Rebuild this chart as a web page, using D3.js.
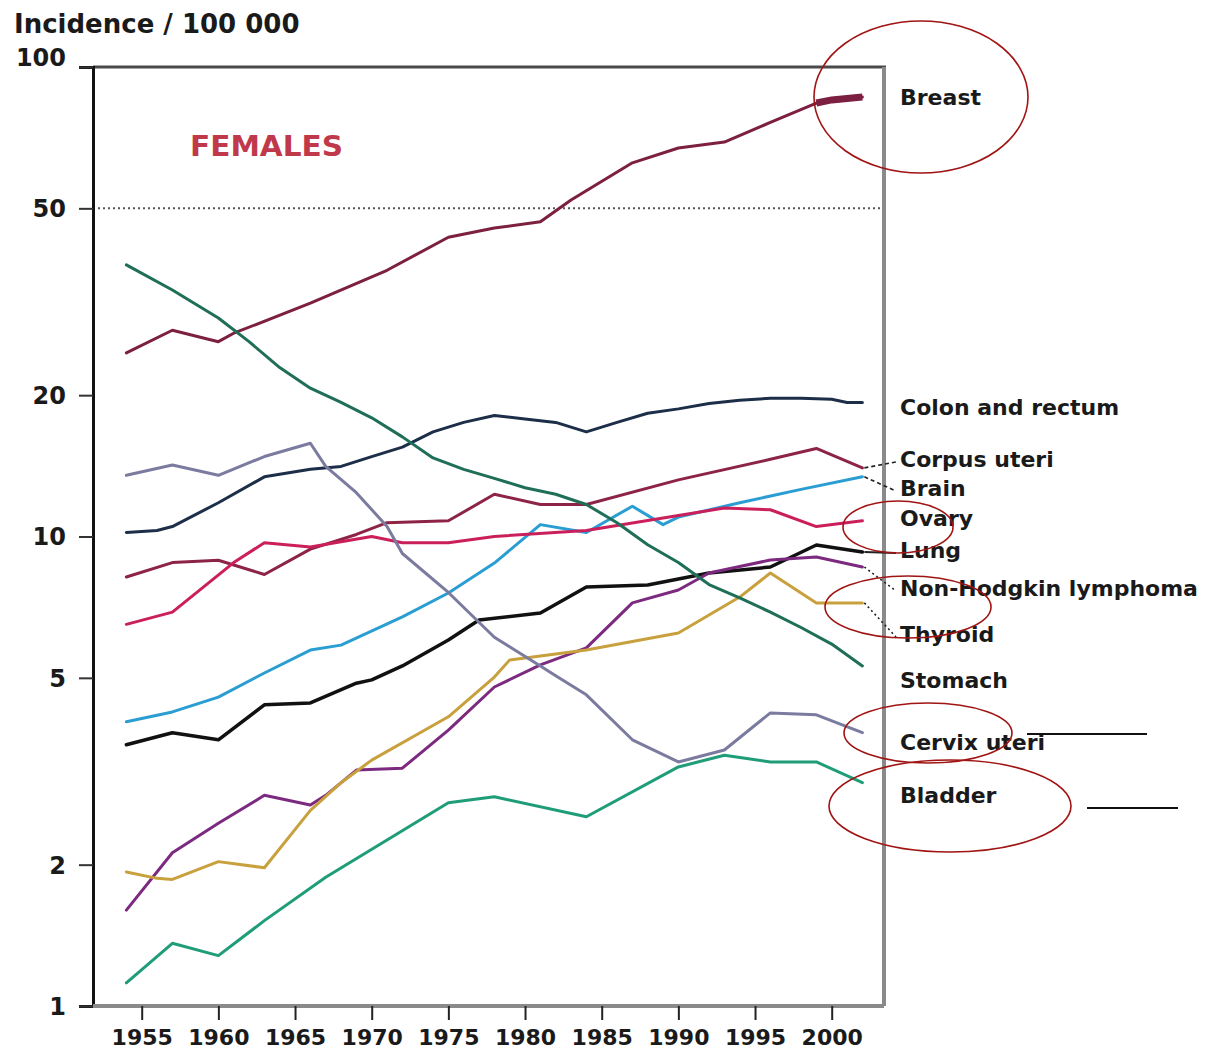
<!DOCTYPE html>
<html>
<head>
<meta charset="utf-8">
<script src="https://cdn.jsdelivr.net/npm/d3@7"></script>
<style>
  html, body { margin: 0; padding: 0; background: #fff; }
  svg { display: block; }
  text { font-family: "DejaVu Sans", sans-serif; font-weight: bold; }
</style>
</head>
<body>
<svg id="chart" width="1212" height="1054"></svg>
<script>
// Female cancer incidence per 100 000, [year, rate] pairs
const breast = [[1954,24.6],[1957,27.5],[1960,26.0],[1961,27.1],[1966,31.4],[1971,36.9],[1975,43.4],[1978,45.4],[1981,46.8],[1983,52.1],[1987,62.5],[1990,67.2],[1993,69.2],[1996,76.2],[1999,83.8],[2000,85.1],[2002,86.3]];
const colonRectum = [[1954,10.2],[1956,10.3],[1957,10.5],[1960,11.8],[1963,13.4],[1966,13.9],[1968,14.1],[1970,14.8],[1972,15.5],[1974,16.7],[1976,17.5],[1978,18.1],[1980,17.8],[1982,17.5],[1984,16.7],[1986,17.5],[1988,18.3],[1990,18.7],[1992,19.2],[1994,19.5],[1996,19.7],[1998,19.7],[2000,19.6],[2001,19.3],[2002,19.3]];
const corpusUteri = [[1954,8.2],[1957,8.8],[1960,8.9],[1963,8.3],[1966,9.4],[1969,10.1],[1971,10.7],[1975,10.8],[1978,12.3],[1981,11.7],[1984,11.7],[1990,13.2],[1996,14.6],[1999,15.4],[2002,14.0]];
const brain = [[1954,4.03],[1957,4.23],[1960,4.55],[1963,5.12],[1966,5.73],[1968,5.87],[1972,6.74],[1975,7.58],[1978,8.78],[1981,10.6],[1984,10.2],[1987,11.6],[1989,10.6],[1990,11.0],[1994,11.8],[1998,12.6],[2002,13.4]];
const ovary = [[1954,6.5],[1957,6.9],[1961,8.8],[1963,9.7],[1966,9.5],[1970,10.0],[1972,9.7],[1975,9.7],[1978,10.0],[1984,10.3],[1993,11.5],[1996,11.4],[1999,10.5],[2002,10.8]];
const lung = [[1954,3.60],[1957,3.82],[1960,3.69],[1963,4.38],[1966,4.42],[1969,4.87],[1970,4.95],[1972,5.3],[1975,6.02],[1977,6.64],[1981,6.87],[1984,7.81],[1988,7.88],[1992,8.36],[1996,8.61],[1999,9.59],[2002,9.27]];
const nonHodgkin = [[1954,1.60],[1957,2.12],[1960,2.45],[1963,2.81],[1966,2.68],[1967,2.81],[1969,3.18],[1972,3.21],[1975,3.87],[1978,4.78],[1981,5.33],[1984,5.79],[1987,7.22],[1990,7.69],[1992,8.36],[1996,8.91],[1999,9.04],[2002,8.61]];
const thyroid = [[1954,1.93],[1956,1.87],[1957,1.86],[1960,2.03],[1963,1.97],[1966,2.61],[1968,2.99],[1970,3.34],[1975,4.13],[1978,5.02],[1979,5.46],[1984,5.73],[1990,6.23],[1994,7.43],[1996,8.36],[1999,7.22],[2002,7.22]];
const stomach = [[1954,37.9],[1957,33.5],[1960,29.2],[1962,26.0],[1964,22.9],[1966,20.7],[1968,19.3],[1970,17.9],[1972,16.3],[1974,14.7],[1976,13.9],[1978,13.3],[1980,12.7],[1982,12.3],[1984,11.7],[1986,10.7],[1988,9.6],[1990,8.8],[1992,7.9],[1994,7.4],[1996,6.9],[1998,6.4],[2000,5.9],[2002,5.3]];
const cervixUteri = [[1954,13.5],[1957,14.2],[1960,13.5],[1963,14.8],[1966,15.8],[1967,14.1],[1969,12.4],[1971,10.5],[1972,9.2],[1975,7.6],[1978,6.1],[1981,5.3],[1982,5.05],[1984,4.6],[1987,3.69],[1990,3.31],[1993,3.51],[1996,4.21],[1999,4.17],[2002,3.82]];
const bladder = [[1954,1.12],[1957,1.36],[1960,1.28],[1963,1.52],[1967,1.88],[1975,2.71],[1978,2.79],[1984,2.53],[1990,3.23],[1993,3.42],[1996,3.31],[1999,3.31],[2002,2.99]];

const seriesNames = ["Breast","Colon and rectum","Corpus uteri","Brain","Ovary","Lung","Non-Hodgkin lymphoma","Thyroid","Stomach","Cervix uteri","Bladder"];
const seriesData = [breast, colonRectum, corpusUteri, brain, ovary, lung, nonHodgkin, thyroid, stomach, cervixUteri, bladder];

const yearTicks = [1955,1960,1965,1970,1975,1980,1985,1990,1995,2000];
const rateTicks = [1,2,5,10,20,50,100];
const axisTitle = "Incidence / 100 000";
const panelTitle = "FEMALES";

// ---- styling / layout ----
const colors = {
  "Breast": "#7c1f40",
  "Colon and rectum": "#1d2e48",
  "Corpus uteri": "#8d2446",
  "Brain": "#2a9ed3",
  "Ovary": "#cb1f5b",
  "Lung": "#111111",
  "Non-Hodgkin lymphoma": "#7c2a80",
  "Thyroid": "#c9a03e",
  "Stomach": "#1f6e58",
  "Cervix uteri": "#7b7b9f",
  "Bladder": "#1f9c78"
};
// vertical centre of each end label, and the leader style joining it to its line
const labelLayout = {
  "Breast": {y: 97},
  "Colon and rectum": {y: 407},
  "Corpus uteri": {y: 459, leader: "4,3"},
  "Brain": {y: 488, leader: "4,3"},
  "Ovary": {y: 518},
  "Lung": {y: 550, leader: "solid"},
  "Non-Hodgkin lymphoma": {y: 588, leader: "2,3"},
  "Thyroid": {y: 634, leader: "2,3"},
  "Stomach": {y: 680},
  "Cervix uteri": {y: 742},
  "Bladder": {y: 795}
};

const svg = d3.select("#chart");
const plot = {left: 93, right: 884, top: 67, bottom: 1006};

const x = d3.scaleLinear().domain([1955, 2000]).range([141.7, 831.7]);
const y = d3.scaleLog().domain([1, 100]).range([plot.bottom, plot.top]);

svg.append("rect").attr("width", 1212).attr("height", 1054).attr("fill", "#fff");

// title above the axis
svg.append("text").attr("x", 14).attr("y", 33)
  .attr("font-size", 26).attr("fill", "#1a1a1a").text(axisTitle);

// dotted reference line at 50
svg.append("line")
  .attr("x1", plot.left).attr("x2", plot.right)
  .attr("y1", y(50)).attr("y2", y(50))
  .attr("stroke", "#555").attr("stroke-width", 2).attr("stroke-dasharray", "2,3");

// frame: top and right edges
svg.append("line").attr("x1", plot.left).attr("x2", plot.right + 2)
  .attr("y1", plot.top).attr("y2", plot.top)
  .attr("stroke", "#4a4a4a").attr("stroke-width", 3);
svg.append("line").attr("x1", plot.right).attr("x2", plot.right)
  .attr("y1", plot.top).attr("y2", plot.bottom)
  .attr("stroke", "#8a8a8a").attr("stroke-width", 4);

// y axis (left)
const yAxis = d3.axisLeft(y).tickValues(rateTicks).tickFormat(d3.format("d"))
  .tickSize(14).tickPadding(13);
const gy = svg.append("g").attr("transform", `translate(${plot.left},0)`).call(yAxis);
gy.select(".domain").attr("stroke", "#111").attr("stroke-width", 3);
gy.selectAll(".tick line").attr("stroke", "#333").attr("stroke-width", 2);
gy.selectAll(".tick text").attr("font-size", 24).attr("fill", "#1a1a1a")
  .attr("font-family", "DejaVu Sans").attr("font-weight", "bold")
  .attr("dy", d => d === 100 ? "-0.05em" : "0.35em");

// x axis (bottom)
const xAxis = d3.axisBottom(x).tickValues(yearTicks).tickFormat(d3.format("d"))
  .tickSize(14).tickPadding(9).tickSizeOuter(0);
const gx = svg.append("g").attr("transform", `translate(0,${plot.bottom})`).call(xAxis);
gx.select(".domain").attr("d", `M${plot.left},0H${plot.right}`)
  .attr("stroke", "#8a8a8a").attr("stroke-width", 4);
gx.selectAll(".tick line").attr("stroke", "#222").attr("stroke-width", 2);
gx.selectAll(".tick text").attr("font-size", 22).attr("fill", "#1a1a1a")
  .attr("font-family", "DejaVu Sans").attr("font-weight", "bold").attr("dy", "0.71em");

// panel title
svg.append("text").attr("x", 190).attr("y", 156)
  .attr("font-size", 29).attr("fill", "#c0394b")
  .attr("textLength", 153).attr("lengthAdjust", "spacingAndGlyphs")
  .text(panelTitle);

// incidence lines
const line = d3.line().x(d => x(d[0])).y(d => y(d[1])).curve(d3.curveLinear);
const lines = svg.append("g");
seriesNames.forEach((name, i) => {
  lines.append("path")
    .datum(seriesData[i])
    .attr("d", line)
    .attr("fill", "none")
    .attr("stroke", colors[name])
    .attr("stroke-width", name === "Lung" ? 3.5 : 3)
    .attr("stroke-linejoin", "round")
    .attr("stroke-linecap", "round");
});
// heavier end segment on the breast curve
lines.append("path")
  .datum(breast.slice(-3))
  .attr("d", line).attr("fill", "none")
  .attr("stroke", colors["Breast"]).attr("stroke-width", 7);

// end labels with leaders
const labels = svg.append("g");
seriesNames.forEach((name, i) => {
  const lay = labelLayout[name];
  const last = seriesData[i][seriesData[i].length - 1];
  if (lay.leader) {
    labels.append("line")
      .attr("x1", x(last[0]) + 2).attr("y1", y(last[1]))
      .attr("x2", 896).attr("y2", lay.y + 3)
      .attr("stroke", "#222").attr("stroke-width", lay.leader === "solid" ? 2 : 1.6)
      .attr("stroke-dasharray", lay.leader === "solid" ? null : lay.leader);
  }
  labels.append("text")
    .attr("x", 900).attr("y", lay.y).attr("dy", "0.35em")
    .attr("font-size", 22).attr("fill", "#1a1a1a")
    .text(name);
});

// red hand-drawn emphasis rings and underline strokes
const rings = [
  {cx: 921, cy: 97, rx: 107, ry: 76},
  {cx: 898, cy: 527, rx: 55, ry: 26},
  {cx: 908, cy: 607, rx: 83, ry: 31},
  {cx: 928, cy: 733, rx: 84, ry: 30},
  {cx: 950, cy: 806, rx: 121, ry: 46}
];
svg.append("g").selectAll("ellipse").data(rings).join("ellipse")
  .attr("cx", d => d.cx).attr("cy", d => d.cy)
  .attr("rx", d => d.rx).attr("ry", d => d.ry)
  .attr("fill", "none").attr("stroke", "#a01414").attr("stroke-width", 1.6);

const strokes = [
  {x1: 1027, x2: 1147, y: 734},
  {x1: 1087, x2: 1178, y: 808}
];
svg.append("g").selectAll("line").data(strokes).join("line")
  .attr("x1", d => d.x1).attr("x2", d => d.x2)
  .attr("y1", d => d.y).attr("y2", d => d.y)
  .attr("stroke", "#111").attr("stroke-width", 2);
</script>
</body>
</html>
